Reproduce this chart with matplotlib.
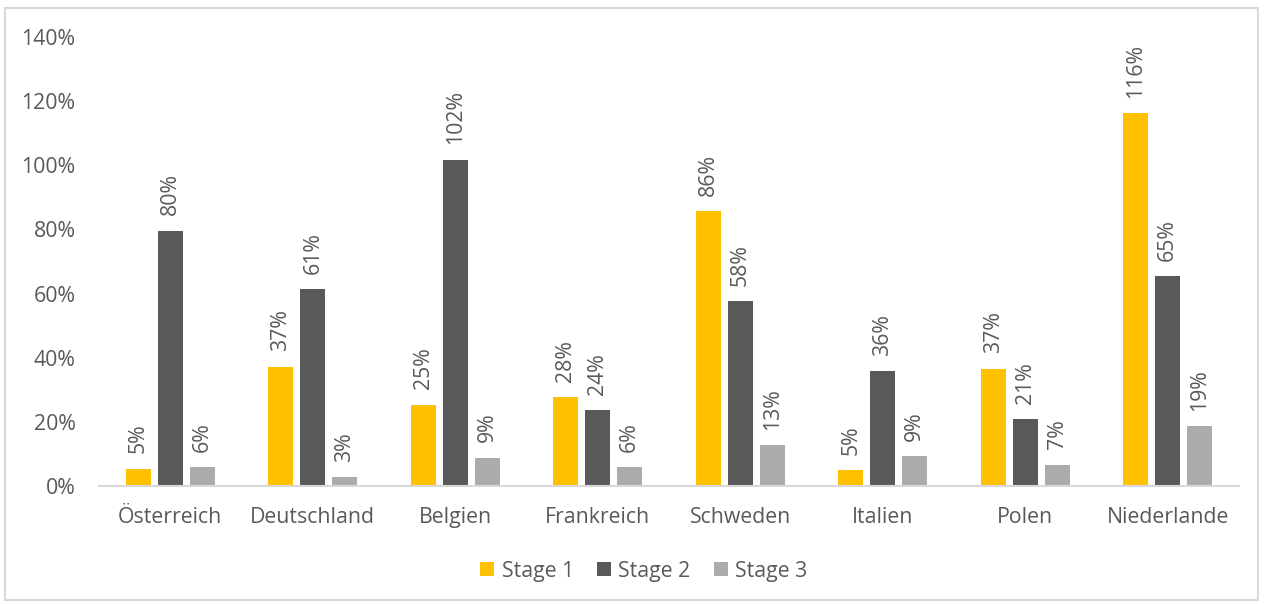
import matplotlib
matplotlib.use("Agg")
import matplotlib.pyplot as plt
import numpy as np
from matplotlib.patches import Rectangle

categories = ["Österreich", "Deutschland", "Belgien", "Frankreich", "Schweden", "Italien", "Polen", "Niederlande"]
stage1 = [5.4, 37.2, 25.4, 27.8, 85.8, 5.0, 36.6, 116.2]
stage2 = [79.6, 61.4, 101.8, 23.6, 57.6, 35.9, 20.8, 65.4]
stage3 = [5.9, 2.7, 8.8, 5.9, 12.8, 9.2, 6.7, 18.7]
series_names = ["Stage 1", "Stage 2", "Stage 3"]
colors = ["#FFC000", "#595959", "#ADAAAA"]
yticks = [0, 20, 40, 60, 80, 100, 120, 140]

plt.rcParams['font.family'] = ['Open Sans', 'DejaVu Sans']
txt = "#595959"
fs = 15.3

fig = plt.figure(figsize=(12.66, 6.04), dpi=100)
W, H = 1266, 604
ax = fig.add_axes([99 / W, 1 - 486 / H, (1239 - 99) / W, (486 - 37) / H])

x = np.arange(len(categories))
width = 0.175
step = 0.224
for i, (vals, name, c) in enumerate(zip([stage1, stage2, stage3], series_names, colors)):
    pos = x + (i - 1) * step
    ax.bar(pos, vals, width, color=c, label=name, zorder=2)
    for xp, v in zip(pos, vals):
        ax.annotate(f"{v:.0f}%", (xp, v), xytext=(0, 11), textcoords="offset points",
                    rotation=90, ha="center", va="bottom", fontsize=fs, color=txt)

ax.set_xlim(-0.5, len(categories) - 0.5)
ax.set_ylim(0, 140)
ax.set_yticks(yticks)
ax.set_yticklabels([f"{t}%" for t in yticks], fontsize=fs, color=txt)
ax.set_xticks(x)
ax.set_xticklabels(categories, fontsize=fs, color=txt)
ax.tick_params(axis="both", length=0)
ax.tick_params(axis="y", pad=17)
ax.tick_params(axis="x", pad=15)
for s in ["top", "right", "left"]:
    ax.spines[s].set_visible(False)
ax.spines["bottom"].set_color("#D9D9D9")
ax.spines["bottom"].set_linewidth(1.5)

leg = fig.legend(loc="center", bbox_to_anchor=(644 / W, 1 - 571 / H), ncol=3, frameon=False,
                 fontsize=fs, handlelength=0.65, handleheight=0.65, handletextpad=0.35, columnspacing=1.1)
for t in leg.get_texts():
    t.set_color(txt)

fig.patches.append(Rectangle((5 / W, 4 / H), (1258 - 5) / W, (596 - 4) / H, transform=fig.transFigure,
                             fill=False, edgecolor="#D9D9D9", linewidth=1.5))

fig.savefig("out.png", dpi=100)
